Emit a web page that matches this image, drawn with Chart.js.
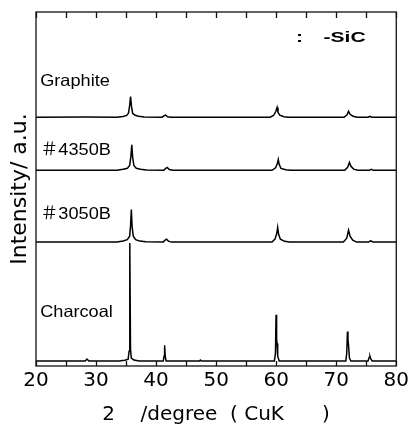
<!DOCTYPE html>
<html><head><meta charset="utf-8">
<script src="https://cdn.jsdelivr.net/npm/chart.js@4"></script>
<style>html,body{margin:0;padding:0;background:#fff}</style>
</head><body>
<canvas id="c" width="414" height="425" style="width:414px;height:425px"></canvas>
<script>
// ---- data (2θ in degrees, intensity in arbitrary units above each trace's baseline) ----
const sampleNames   = ['Graphite', '＃4350B', '＃3050B', 'Charcoal'];
const seriesOffsets = [253, 199, 126, 5];
const labelRise     = [32, 16, 23, 45];
const xTickLabels   = ['20', '30', '40', '50', '60', '70', '80'];

const graphiteTheta = [20,28.4,33.5,34.5,35.1,35.4,35.6,35.75,35.9,36.1,36.5,37.1,38.0,41.0,41.35,41.6,41.9,42.4,59.0,59.6,59.95,60.15,60.3,60.6,61.3,62.0,71.3,71.8,72.05,72.3,72.8,73.5,75.3,75.6,75.9,80];
const graphiteInt   = [0,0.3,0,0.8,1.8,4,12,21,11,4,2,1,0.3,0,1.5,2.2,0.5,0,0,2,6,10,5,2,0.5,0,0,2.5,6,3,1,0,0,1,0,0];

const b4350Theta = [20,33.5,34.5,35.2,35.6,35.8,35.95,36.1,36.3,36.7,37.4,38.4,41.3,41.6,41.85,42.2,42.8,59.3,59.9,60.2,60.35,60.5,60.8,61.6,62.4,71.4,71.9,72.2,72.45,72.9,73.6,75.5,75.85,76.2,80];
const b4350Int   = [0,0,1,2,5,14,26,13,5,2,1,0.3,0,2,3,0.8,0,0,2.5,7,11,6,2,0.5,0,0,3,8,4,1.2,0,0,1,0,0];

const b3050Theta = [20,33.5,34.5,35.2,35.6,35.75,35.88,36.0,36.2,36.6,37.3,38.3,41.2,41.5,41.75,42.05,42.6,59.3,59.8,60.1,60.25,60.4,60.7,61.4,62.2,71.2,71.75,72.05,72.3,72.75,73.4,75.4,75.75,76.1,80];
const b3050Int   = [0,0,1.2,2.5,6,17,33,16,6,2.5,1,0.3,0,2,3,1,0,0,3,9,15,8,3,0.8,0,0,4,12,6,2,0,0,1.5,0,0];

const charcoalTheta = [20,28.2,28.5,28.8,33.8,34.8,35.35,35.5,35.62,35.74,35.87,36.3,37.2,41.2,41.32,41.42,41.52,41.67,47.2,47.38,47.55,59.7,59.88,59.98,60.07,60.15,60.25,60.5,71.6,71.75,71.87,71.96,72.05,72.2,72.45,75.3,75.5,75.62,75.78,76.0,80];
const charcoalInt   = [0,0,2,0,0,0.8,2,10,120,12,3,1,0,0,5,16,5,0,0,1,0,0,8,47,22,18,5,0,0,8,30,22,16,3,0,0,4,5,2,0,0];

const thetaSets = [graphiteTheta, b4350Theta, b3050Theta, charcoalTheta];
const intSets   = [graphiteInt, b4350Int, b3050Int, charcoalInt];

const FONT = '"DejaVu Sans", "Noto Sans CJK JP", sans-serif';
const LFONT = '"Liberation Sans", Arial, "Noto Sans CJK JP", sans-serif';

const datasets = sampleNames.map((name, i) => ({
  label: name,
  data: thetaSets[i].map((t, k) => ({x: t, y: seriesOffsets[i] + intSets[i][k]})),
  borderColor: '#000',
  borderWidth: 1.5,
  pointRadius: 0,
  tension: 0,
  fill: false
}));

const framePlugin = {
  id: 'frame',
  afterDraw(chart) {
    const {ctx, chartArea: a, scales: {x}} = chart;
    ctx.save();
    ctx.strokeStyle = '#111';
    ctx.lineWidth = 1.3;
    ctx.strokeRect(a.left, a.top, a.right - a.left, a.bottom - a.top);
    ctx.beginPath();
    x.ticks.forEach(t => {
      const px = Math.round(x.getPixelForValue(t.value)) + 0.5;
      ctx.moveTo(px, a.bottom); ctx.lineTo(px, a.bottom - 5);
      ctx.moveTo(px, a.top); ctx.lineTo(px, a.top + 6);
    });
    ctx.stroke();
    ctx.restore();
  }
};

function drawScaledText(ctx, text, px, py, sx) {
  ctx.save();
  ctx.translate(px, py);
  ctx.scale(sx, 1);
  ctx.fillText(text, 0, 0);
  ctx.restore();
}

const labelPlugin = {
  id: 'labels',
  afterDatasetsDraw(chart) {
    const {ctx, scales: {x, y}} = chart;
    ctx.save();
    ctx.fillStyle = '#000';
    ctx.textBaseline = 'alphabetic';
    ctx.textAlign = 'left';
    ctx.font = '16.5px ' + LFONT;
    sampleNames.forEach((n, i) => {
      drawScaledText(ctx, n, x.getPixelForValue(20.7), y.getPixelForValue(seriesOffsets[i] + labelRise[i]), 1.1);
    });
    ctx.font = 'bold 15px ' + LFONT;
    const ly = y.getPixelForValue(329);
    ctx.textAlign = 'center';
    drawScaledText(ctx, ':', x.getPixelForValue(63.9), ly, 1.4);
    ctx.textAlign = 'left';
    drawScaledText(ctx, '-SiC', x.getPixelForValue(67.9), ly, 1.4);
    ctx.restore();
  }
};

new Chart(document.getElementById('c'), {
  type: 'line',
  data: {datasets},
  options: {
    responsive: false,
    animation: false,
    devicePixelRatio: 1,
    layout: {padding: {left: 8, right: 16, top: 12, bottom: 0}},
    plugins: {legend: {display: false}, tooltip: {enabled: false}},
    scales: {
      x: {
        type: 'linear', min: 20, max: 80,
        ticks: {
          stepSize: 5, autoSkip: false, maxRotation: 0, padding: 5, color: '#000',
          font: {family: FONT, size: 20, lineHeight: 1},
          callback: v => (v % 10 === 0 ? xTickLabels[(v - 20) / 10] : '')
        },
        grid: {display: false, drawTicks: false},
        border: {display: false},
        title: {
          display: true, text: '2    /degree  ( CuK      )', color: '#000',
          font: {family: FONT, size: 20, lineHeight: 1},
          padding: {top: 9, bottom: 0}
        }
      },
      y: {
        type: 'linear', min: 0, max: 360,
        ticks: {display: false},
        grid: {display: false, drawTicks: false},
        border: {display: false},
        title: {
          display: true, text: 'Intensity/ a.u.', color: '#000',
          font: {family: FONT, size: 22, lineHeight: 1},
          padding: {top: 1, bottom: 5}
        }
      }
    }
  },
  plugins: [framePlugin, labelPlugin]
});
</script>
</body></html>
